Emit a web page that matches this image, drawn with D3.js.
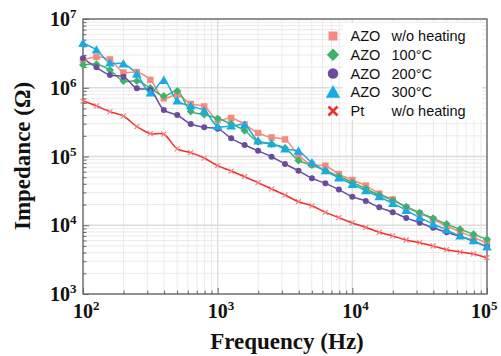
<!DOCTYPE html>
<html><head><meta charset="utf-8">
<script src="https://cdn.jsdelivr.net/npm/d3@7"></script>
<style>body{margin:0;background:#fff}svg{display:block}</style>
</head><body>
<svg id="chart" width="501" height="356"></svg>
<script>
// Frequencies: 10 points per decade, 100 Hz .. 100 kHz
const freqs = [100,125.9,158.5,199.5,251.2,316.2,398.1,501.2,631,794.3,
  1000,1259,1585,1995,2512,3162,3981,5012,6310,7943,
  10000,12589,15849,19953,25119,31623,39811,50119,63096,79433,100000];
const seriesNames = ["AZO  w/o heating","AZO  100°C","AZO  200°C","AZO  300°C","Pt     w/o heating"];
const azoNoHeat = [2.53e6,2.80e6,2.58e6,1.67e6,1.69e6,1.30e6,7.03e5,7.98e5,5.81e5,5.34e5,
  3.40e5,3.63e5,2.92e5,2.20e5,1.89e5,1.77e5,1.04e5,7.62e4,7.35e4,5.55e4,
  4.55e4,3.78e4,2.88e4,2.37e4,1.82e4,1.49e4,1.22e4,9.75e3,8.05e3,6.68e3,5.43e3];
const azo100 = [2.14e6,2.19e6,1.81e6,1.25e6,1.25e6,9.9e5,7.59e5,8.97e5,4.52e5,4.08e5,
  3.57e5,2.99e5,2.37e5,1.64e5,1.52e5,1.33e5,8.75e4,7.52e4,6.25e4,5.12e4,
  4.19e4,3.39e4,2.75e4,2.31e4,1.86e4,1.52e4,1.26e4,1.04e4,8.73e3,7.38e3,6.25e3];
const azo200 = [2.68e6,1.98e6,1.53e6,1.45e6,9.82e5,9.27e5,4.74e5,4.01e5,2.97e5,2.66e5,
  2.54e5,1.84e5,1.47e5,1.21e5,9.93e4,7.78e4,6.19e4,4.82e4,4.07e4,3.30e4,
  2.60e4,2.25e4,1.82e4,1.55e4,1.28e4,1.09e4,9.20e3,7.89e3,6.90e3,5.86e3,4.88e3];
const azo300 = [4.43e6,3.54e6,2.29e6,2.23e6,1.58e6,8.39e5,1.28e6,6.46e5,5.43e5,4.64e5,
  2.75e5,2.78e5,2.87e5,1.69e5,1.54e5,1.29e5,1.20e5,8.13e4,6.21e4,4.90e4,
  3.94e4,3.18e4,2.60e4,2.08e4,1.65e4,1.29e4,1.04e4,8.53e3,6.98e3,5.96e3,4.83e3];
const ptNoHeat = [6.41e5,5.43e5,4.49e5,3.88e5,2.72e5,2.15e5,2.11e5,1.29e5,1.14e5,9.5e4,
  7.35e4,6.15e4,5.08e4,4.16e4,3.37e4,2.75e4,2.20e4,1.92e4,1.54e4,1.29e4,
  1.08e4,9.33e3,7.89e3,6.98e3,6.10e3,5.57e3,4.99e3,4.41e3,4.08e3,3.82e3,3.37e3];
const xTickExps = [2,3,4,5];
const yTickExps = [3,4,5,6,7];

const colors = ["#f48b7f","#3bb36b","#6a4c9e","#1aabe2","#ef2f2f"];
const markerColors = ["#f48b7f","#3bb36b","#6a4c9e","#1aabe2","#f77a7a"];
const symbols = ["square","diamond","circle","triangle","cross"];
const allSeries = [azoNoHeat, azo100, azo200, azo300, ptNoHeat];

const L = 83, R = 487, T = 19, B = 294;
const svg = d3.select("#chart");
const x = d3.scaleLog().domain([100,1e5]).range([L,R]);
const y = d3.scaleLog().domain([1e3,1e7]).range([B,T]);
const isMajor = d => Math.abs(Math.log10(d)-Math.round(Math.log10(d)))<1e-9;

// grid
const g = svg.append("g");
const minorX = [], minorY = [];
for (let e = 2; e < 5; e++) for (let k = 2; k <= 9; k++) minorX.push(k*Math.pow(10,e));
for (let e = 3; e < 7; e++) for (let k = 2; k <= 9; k++) minorY.push(k*Math.pow(10,e));
g.selectAll(".gxm").data(minorX).enter().append("line")
  .attr("x1",d=>x(d)).attr("x2",d=>x(d)).attr("y1",T).attr("y2",B)
  .attr("stroke","#ebebeb").attr("stroke-width",1);
g.selectAll(".gym").data(minorY).enter().append("line")
  .attr("y1",d=>y(d)).attr("y2",d=>y(d)).attr("x1",L).attr("x2",R)
  .attr("stroke","#ebebeb").attr("stroke-width",1);
g.selectAll(".gxM").data(xTickExps).enter().append("line")
  .attr("x1",d=>x(Math.pow(10,d))).attr("x2",d=>x(Math.pow(10,d))).attr("y1",T).attr("y2",B)
  .attr("stroke","#dcdcdc").attr("stroke-width",1.3);
g.selectAll(".gyM").data(yTickExps).enter().append("line")
  .attr("y1",d=>y(Math.pow(10,d))).attr("y2",d=>y(Math.pow(10,d))).attr("x1",L).attr("x2",R)
  .attr("stroke","#dcdcdc").attr("stroke-width",1.3);

// axes (ticks inward)
const xAxis = d3.axisBottom(x).tickValues(minorX.concat(xTickExps.map(e=>Math.pow(10,e))))
  .tickFormat("").tickSizeInner(-4).tickSizeOuter(0);
const gx = svg.append("g").attr("transform",`translate(0,${B})`).call(xAxis);
gx.selectAll(".tick line").attr("y2",d=>isMajor(d)?-6:-3.5);
const yAxis = d3.axisLeft(y).tickValues(minorY.concat(yTickExps.map(e=>Math.pow(10,e))))
  .tickFormat("").tickSizeInner(-4).tickSizeOuter(0);
const gy = svg.append("g").attr("transform",`translate(${L},0)`).call(yAxis);
gy.selectAll(".tick line").attr("x2",d=>isMajor(d)?6:3.5);
[gx,gy].forEach(a=>{a.selectAll("line,path").attr("stroke","#666");a.select(".domain").remove();});
svg.append("rect").attr("x",L).attr("y",T).attr("width",R-L).attr("height",B-T)
  .attr("fill","none").attr("stroke","#666").attr("stroke-width",1.3);

// tick labels
const serif = "'Liberation Serif','Times New Roman',serif";
const xl = svg.append("g").attr("font-family",serif).attr("font-weight","bold").attr("fill","#111");
xTickExps.forEach((e,i)=>{
  const px = Math.min(x(Math.pow(10,e))-10, 471);
  const t = xl.append("text").attr("x",px).attr("y",318).attr("font-size",20);
  t.append("tspan").text("10");
  t.append("tspan").attr("dy",-8).attr("font-size",13).text(e);
});
yTickExps.forEach(e=>{
  const t = xl.append("text").attr("x",50).attr("y",y(Math.pow(10,e))+7).attr("font-size",20);
  t.append("tspan").text("10");
  t.append("tspan").attr("dy",-8).attr("font-size",13).text(e);
});
// titles
svg.append("text").attr("x",(L+R)/2+2).attr("y",349).attr("text-anchor","middle")
  .attr("font-family",serif).attr("font-weight","bold").attr("font-size",23).attr("fill","#111")
  .text("Frequency (Hz)");
svg.append("text").attr("transform","translate(30,156) rotate(-90)").attr("text-anchor","middle")
  .attr("font-family",serif).attr("font-weight","bold").attr("font-size",23).attr("fill","#111")
  .text("Impedance (Ω)");

// marker drawer
function drawMarker(sel, type, size, color){
  if (type==="square") sel.append("rect").attr("x",-size/2).attr("y",-size/2).attr("width",size).attr("height",size).attr("fill",color);
  else if (type==="diamond") sel.append("path").attr("d",`M0,${-size*0.62}L${size*0.62},0L0,${size*0.62}L${-size*0.62},0Z`).attr("fill",color);
  else if (type==="circle") sel.append("circle").attr("r",size/2).attr("fill",color);
  else if (type==="triangle") sel.append("path").attr("d",`M0,${-size*0.6}L${size*0.6},${size*0.45}L${-size*0.6},${size*0.45}Z`).attr("fill",color);
  else if (type==="cross") { const h=size/2; sel.append("path").attr("d",`M${-h},${-h}L${h},${h}M${-h},${h}L${h},${-h}`).attr("stroke",color).attr("stroke-width",size>6?2.6:1.1).attr("fill","none"); }
}

// lines and markers
const line = d3.line().x(d=>x(d[0])).y(d=>y(d[1])).curve(d3.curveCatmullRom.alpha(0.5));
svg.append("clipPath").attr("id","clp").append("rect").attr("x",L).attr("y",T).attr("width",R-L).attr("height",B-T);
const plot = svg.append("g").attr("clip-path","url(#clp)");
const mSizes = [6.5,6.5,6,8,5];
allSeries.forEach((vals,i)=>{
  const pts = freqs.map((f,j)=>[f,vals[j]]);
  plot.append("path").datum(pts).attr("d",line).attr("fill","none")
    .attr("stroke",colors[i]).attr("stroke-width",1.5);
  const mg = svg.append("g");
  pts.forEach(p=>{
    const s = mg.append("g").attr("transform",`translate(${x(p[0])},${y(p[1])})`);
    drawMarker(s, symbols[i], mSizes[i], markerColors[i]);
  });
});

// legend
const leg = svg.append("g");
leg.append("rect").attr("x",343).attr("y",23).attr("width",139).attr("height",97).attr("fill","#fff");
const legMark = [9,10,10.5,12,9];
const legCol = ["#f48b7f","#3bb36b","#6a4c9e","#1aabe2","#ef2f2f"];
const leftTxt = ["AZO","AZO","AZO","AZO","Pt"];
const rightTxt = ["w/o heating","100°C","200°C","300°C","w/o heating"];
seriesNames.forEach((n,i)=>{
  const cy = 36 + i*18.75;
  const s = leg.append("g").attr("transform",`translate(333,${cy})`);
  drawMarker(s, symbols[i], legMark[i], legCol[i]);
  leg.append("text").attr("x",350.5).attr("y",cy+5).attr("font-family","'Liberation Sans',Arial,sans-serif")
    .attr("font-size",14.5).attr("fill","#111").text(leftTxt[i]);
  leg.append("text").attr("x",391.5).attr("y",cy+5).attr("font-family","'Liberation Sans',Arial,sans-serif")
    .attr("font-size",14.5).attr("fill","#111").text(rightTxt[i]);
});
</script>
</body></html>
